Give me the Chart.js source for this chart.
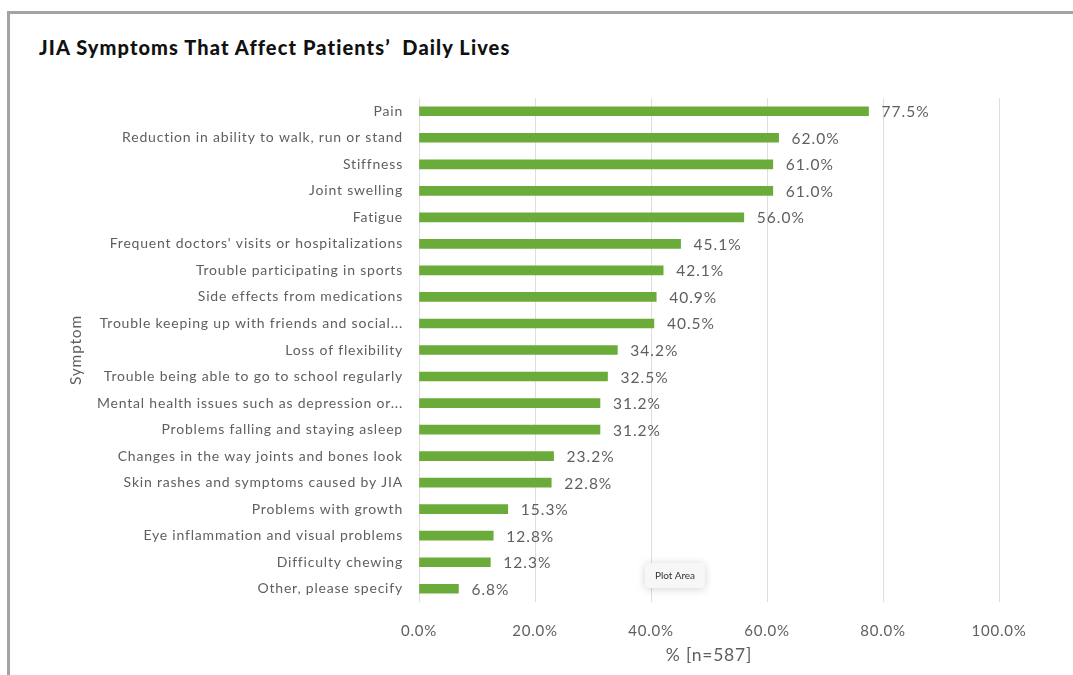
<!DOCTYPE html>
<html>
<head>
<meta charset="utf-8">
<script src="https://cdn.jsdelivr.net/npm/chart.js@4.4.1/dist/chart.umd.min.js"></script>
<style>
  html, body { margin: 0; padding: 0; background: #fff; }
  body { width: 1073px; height: 675px; position: relative; overflow: hidden; font-family: Lato, "Open Sans", sans-serif; }
  .frame { position: absolute; left: 7px; top: 11px; right: -10px; bottom: -10px; border-top: 3px solid #a3a3a3; border-left: 3px solid #a3a3a3; }
  .titulo { position: absolute; left: 39px; top: 35px; font-size: 20px; font-weight: 900; color: #111; letter-spacing: 1.1px; }
  .wrap { position: absolute; left: 0; top: 0; width: 1073px; height: 675px; }
  .plot-tip { position: absolute; left: 645px; top: 563px; width: 60px; height: 25px; line-height: 25px; text-align: center;
              font-size: 10px; color: #333; background: #f7f7f7; border-radius: 4px; box-shadow: 0 1px 8px rgba(0,0,0,0.18); }
</style>
</head>
<body>
<div class="frame"></div>
<div class="titulo">JIA Symptoms That Affect Patients’&nbsp; Daily Lives</div>
<div class="wrap"><canvas id="chartSintomas" width="1073" height="675"></canvas></div>
<div class="plot-tip">Plot Area</div>

<script>
// ── Dados ────────────────────────────────────────────────────────
const sintomas = [
    'Pain',
    'Reduction in ability to walk, run or stand',
    'Stiffness',
    'Joint swelling',
    'Fatigue',
    'Frequent doctors\' visits or hospitalizations',
    'Trouble participating in sports',
    'Side effects from medications',
    'Trouble keeping up with friends and social...',
    'Loss of flexibility',
    'Trouble being able to go to school regularly',
    'Mental health issues such as depression or...',
    'Problems falling and staying asleep',
    'Changes in the way joints and bones look',
    'Skin rashes and symptoms caused by JIA',
    'Problems with growth',
    'Eye inflammation and visual problems',
    'Difficulty chewing',
    'Other, please specify'
];
const percentuais = [77.5, 62.0, 61.0, 61.0, 56.0, 45.1, 42.1, 40.9, 40.5, 34.2, 32.5, 31.2, 31.2, 23.2, 22.8, 15.3, 12.8, 12.3, 6.8];
const ticksX = [0, 20, 40, 60, 80, 100];

const CINZA_TEXTO = '#5f5f5f';
const VERDE       = '#6aab3a';

// espaçamento entre letras p/ aproximar a fonte larga do original
const espacamento = {
    id: 'espacamento',
    beforeDraw(chart) {
        if ('letterSpacing' in chart.ctx) chart.ctx.letterSpacing = '0.8px';
    }
};

// rótulos de valor no fim de cada barra
const rotulosBarras = {
    id: 'rotulosBarras',
    afterDatasetsDraw(chart) {
        const ctx = chart.ctx;
        const meta = chart.getDatasetMeta(0);
        ctx.save();
        ctx.font = '15.5px Lato, sans-serif';
        ctx.fillStyle = CINZA_TEXTO;
        ctx.textAlign = 'left';
        ctx.textBaseline = 'middle';
        if ('letterSpacing' in ctx) ctx.letterSpacing = '1px';
        meta.data.forEach((bar, i) => {
            ctx.fillText(percentuais[i].toFixed(1) + '%', bar.x + 13, bar.y + 1);
        });
        ctx.restore();
    }
};

const ctxSintomas = document.getElementById('chartSintomas').getContext('2d');
new Chart(ctxSintomas, {
    type: 'bar',
    data: {
        labels: sintomas,
        datasets: [{
            data: percentuais,
            backgroundColor: VERDE,
            borderWidth: 0,
            barThickness: 9
        }]
    },
    options: {
        indexAxis: 'y',
        responsive: false,
        animation: false,
        layout: { padding: { left: 50, right: 74, top: 98, bottom: 0 } },
        plugins: {
            legend: { display: false },
            tooltip: { enabled: false }
        },
        scales: {
            x: {
                min: 0, max: 100,
                afterBuildTicks: (axis) => { axis.ticks = ticksX.map(v => ({ value: v })); },
                afterFit: (axis) => { axis.height = 73; },
                grid: { color: '#dedede', lineWidth: 1, drawTicks: false },
                border: { display: false },
                ticks: {
                    padding: 20,
                    color: CINZA_TEXTO,
                    font: { size: 15, family: 'Lato' },
                    callback: (v) => Number(v).toFixed(1) + '%'
                },
                title: {
                    display: true,
                    text: '% [n=587]',
                    color: CINZA_TEXTO,
                    font: { size: 17.5, family: 'Lato' },
                    padding: { top: 0, bottom: 9 }
                }
            },
            y: {
                afterFit: (axis) => { axis.width = 369; },
                grid: { display: false, drawTicks: false },
                border: { display: false },
                ticks: {
                    padding: 16,
                    color: CINZA_TEXTO,
                    autoSkip: false,
                    font: { size: 14, family: 'Lato' }
                },
                title: {
                    display: true,
                    text: 'Symptom',
                    color: CINZA_TEXTO,
                    font: { size: 15.5, family: 'Lato' },
                    padding: { top: 17, bottom: 0 }
                }
            }
        }
    },
    plugins: [espacamento, rotulosBarras]
});
</script>
</body>
</html>
